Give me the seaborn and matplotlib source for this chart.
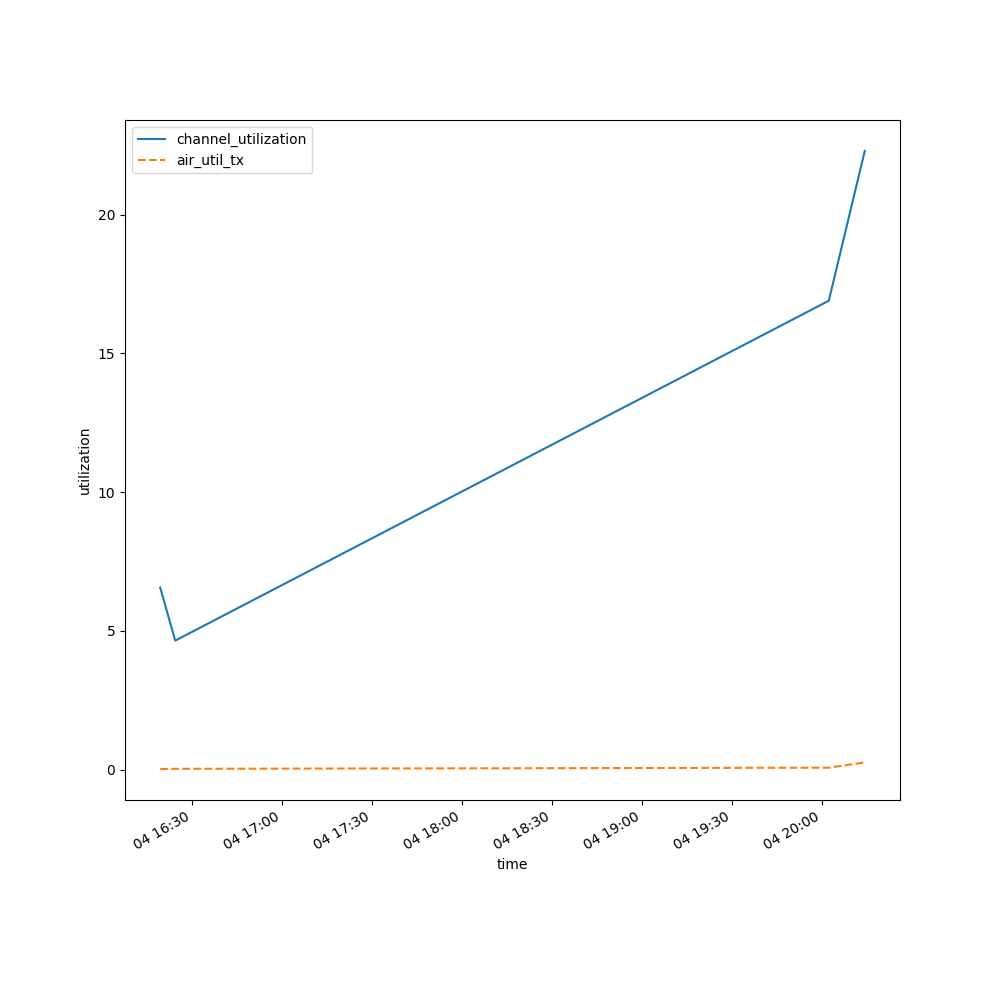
import matplotlib
matplotlib.use("Agg")
import matplotlib.pyplot as plt
import pandas as pd
import seaborn as sns

times = ["2024-03-04 16:19:20", "2024-03-04 16:24:20",
         "2024-03-04 20:02:20", "2024-03-04 20:14:20"]
channel_utilization = [6.56, 4.65, 16.9, 22.3]
air_util_tx = [0.02, 0.03, 0.07, 0.26]

df = pd.DataFrame({
    "channel_utilization": channel_utilization,
    "air_util_tx": air_util_tx,
}, index=pd.to_datetime(times))
df.index.name = "time"

fig, ax = plt.subplots(figsize=(10, 10), dpi=100)
sns.lineplot(data=df, ax=ax, dashes=["", (3.7, 1.6)],
             palette=["#1f77b4", "#ff7f0e"])
ax.set_xlabel("time")
ax.set_ylabel("utilization")
ax.legend(loc="upper left")
fig.autofmt_xdate()
fig.savefig("out.png", dpi=100)
